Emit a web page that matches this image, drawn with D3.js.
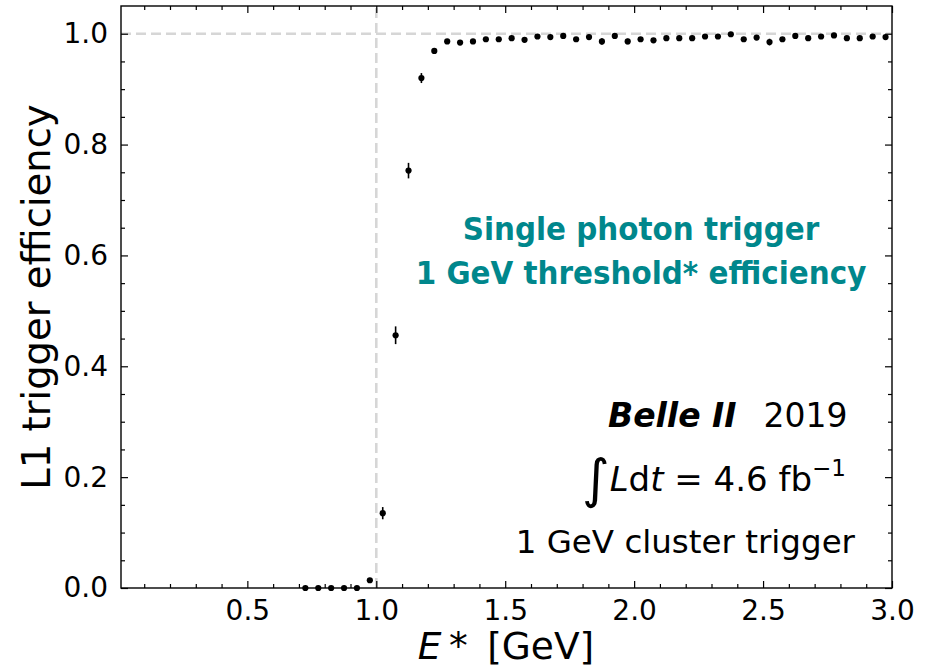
<!DOCTYPE html>
<html>
<head>
<meta charset="utf-8">
<script src="https://cdn.jsdelivr.net/npm/d3@7"></script>
<style>
  html, body { margin: 0; padding: 0; background: #fff; }
  svg { display: block; }
  text { font-family: "DejaVu Sans", sans-serif; fill: #000; }
</style>
</head>
<body>
<svg id="chart" width="934" height="667"></svg>
<script>
// Bin centres of E* [GeV] (0.05 GeV bins)
const energy = [
  0.725, 0.775, 0.825, 0.875, 0.925, 0.975, 1.025, 1.075, 1.125, 1.175,
  1.225, 1.275, 1.325, 1.375, 1.425, 1.475, 1.525, 1.575, 1.625, 1.675,
  1.725, 1.775, 1.825, 1.875, 1.925, 1.975, 2.025, 2.075, 2.125, 2.175,
  2.225, 2.275, 2.325, 2.375, 2.425, 2.475, 2.525, 2.575, 2.625, 2.675,
  2.725, 2.775, 2.825, 2.875, 2.925, 2.975
];
// L1 trigger efficiency per bin
const efficiency = [
  0.000, 0.000, 0.000, 0.000, 0.000, 0.014, 0.135, 0.456, 0.753, 0.920,
  0.969, 0.986, 0.984, 0.986, 0.990, 0.990, 0.992, 0.989, 0.995, 0.994,
  0.996, 0.990, 0.994, 0.986, 0.996, 0.986, 0.990, 0.988, 0.992, 0.992,
  0.992, 0.995, 0.995, 0.999, 0.990, 0.993, 0.985, 0.990, 0.996, 0.992,
  0.995, 0.997, 0.992, 0.992, 0.995, 0.994
];
// Statistical uncertainty per bin
const uncertainty = [
  0.001, 0.001, 0.001, 0.001, 0.001, 0.004, 0.011, 0.016, 0.014, 0.009,
  0.005, 0.004, 0.004, 0.004, 0.003, 0.003, 0.003, 0.003, 0.003, 0.003,
  0.003, 0.004, 0.003, 0.006, 0.003, 0.005, 0.004, 0.004, 0.003, 0.003,
  0.003, 0.003, 0.003, 0.003, 0.004, 0.003, 0.006, 0.004, 0.003, 0.003,
  0.003, 0.003, 0.003, 0.003, 0.003, 0.003
];
const xMajorTicks = [0.5, 1.0, 1.5, 2.0, 2.5, 3.0];
const xMinorTicks = [0.1, 0.2, 0.3, 0.4, 0.6, 0.7, 0.8, 0.9, 1.1, 1.2, 1.3, 1.4,
  1.6, 1.7, 1.8, 1.9, 2.1, 2.2, 2.3, 2.4, 2.6, 2.7, 2.8, 2.9];
const yMajorTicks = [0.0, 0.2, 0.4, 0.6, 0.8, 1.0];
const yMinorTicks = [0.05, 0.1, 0.15, 0.25, 0.3, 0.35, 0.45, 0.5, 0.55, 0.65, 0.7,
  0.75, 0.85, 0.9, 0.95];
const thresholdEnergy = 1.0;
const fullEfficiency = 1.0;

const svg = d3.select("#chart");
const plotLeft = 121, plotRight = 892, plotTop = 6, plotBottom = 588;

const x = d3.scaleLinear().domain([0.01, 3.0]).range([plotLeft, plotRight]);
const y = d3.scaleLinear().domain([0, 1.05]).range([plotBottom, plotTop]);

// reference lines
const grid = svg.append("g")
  .attr("stroke", "#d6d6d6").attr("stroke-width", 2.6)
  .attr("stroke-dasharray", "10,5").attr("fill", "none");
grid.append("line")
  .attr("x1", plotLeft).attr("x2", plotRight)
  .attr("y1", y(fullEfficiency)).attr("y2", y(fullEfficiency));
grid.append("line")
  .attr("x1", x(thresholdEnergy)).attr("x2", x(thresholdEnergy))
  .attr("y1", plotBottom).attr("y2", plotTop);

// axes with inward ticks on all four sides
const fmt = d3.format(".1f");
function styleAxis(g) {
  g.select(".domain").remove();
  g.selectAll(".tick line").attr("stroke", "#000").attr("stroke-width", 1.2);
}
function styleLabels(g) {
  g.selectAll("text").attr("font-size", 28).attr("font-family", "DejaVu Sans").attr("fill", "#000");
}
const tickMajor = 7, tickMinor = 4;

svg.append("g").attr("transform", `translate(0,${plotBottom})`)
  .call(d3.axisBottom(x).tickValues(xMajorTicks).tickFormat(fmt).tickSizeInner(-tickMajor).tickSizeOuter(0).tickPadding(12))
  .call(styleAxis).call(styleLabels);
svg.append("g").attr("transform", `translate(0,${plotBottom})`)
  .call(d3.axisBottom(x).tickValues(xMinorTicks).tickFormat("").tickSizeInner(-tickMinor).tickSizeOuter(0))
  .call(styleAxis);
svg.append("g").attr("transform", `translate(0,${plotTop})`)
  .call(d3.axisTop(x).tickValues(xMajorTicks).tickFormat("").tickSizeInner(-tickMajor).tickSizeOuter(0))
  .call(styleAxis);
svg.append("g").attr("transform", `translate(0,${plotTop})`)
  .call(d3.axisTop(x).tickValues(xMinorTicks).tickFormat("").tickSizeInner(-tickMinor).tickSizeOuter(0))
  .call(styleAxis);

svg.append("g").attr("transform", `translate(${plotLeft},0)`)
  .call(d3.axisLeft(y).tickValues(yMajorTicks).tickFormat(fmt).tickSizeInner(-tickMajor).tickSizeOuter(0).tickPadding(13))
  .call(styleAxis).call(styleLabels);
svg.append("g").attr("transform", `translate(${plotLeft},0)`)
  .call(d3.axisLeft(y).tickValues(yMinorTicks).tickFormat("").tickSizeInner(-tickMinor).tickSizeOuter(0))
  .call(styleAxis);
svg.append("g").attr("transform", `translate(${plotRight},0)`)
  .call(d3.axisRight(y).tickValues(yMajorTicks).tickFormat("").tickSizeInner(-tickMajor).tickSizeOuter(0))
  .call(styleAxis);
svg.append("g").attr("transform", `translate(${plotRight},0)`)
  .call(d3.axisRight(y).tickValues(yMinorTicks).tickFormat("").tickSizeInner(-tickMinor).tickSizeOuter(0))
  .call(styleAxis);

// frame
svg.append("rect")
  .attr("x", plotLeft).attr("y", plotTop)
  .attr("width", plotRight - plotLeft).attr("height", plotBottom - plotTop)
  .attr("fill", "none").attr("stroke", "#000").attr("stroke-width", 1.4);

// data points with error bars
const data = energy.map((e, i) => ({ e, v: efficiency[i], err: uncertainty[i] }));
const pts = svg.append("g");
pts.selectAll("line.err").data(data).join("line")
  .attr("class", "err")
  .attr("x1", d => x(d.e)).attr("x2", d => x(d.e))
  .attr("y1", d => y(Math.max(0, d.v - d.err))).attr("y2", d => y(d.v + d.err))
  .attr("stroke", "#000").attr("stroke-width", 1.6);
pts.selectAll("circle").data(data).join("circle")
  .attr("cx", d => x(d.e)).attr("cy", d => y(d.v))
  .attr("r", 3.1).attr("fill", "#000");

// axis titles
svg.append("text")
  .attr("transform", `translate(50,${(plotTop + plotBottom) / 2}) rotate(-90)`)
  .attr("text-anchor", "middle").attr("font-size", 38.5)
  .text("L1 trigger efficiency");

const xt = svg.append("text")
  .attr("x", 506).attr("y", 659)
  .attr("text-anchor", "middle").attr("font-size", 37.5);
xt.append("tspan").attr("font-style", "italic").text("E");
xt.append("tspan").text("\u2009* \u2009[GeV]");

// teal caption (slightly condensed bold)
const captionLines = [
  { text: "Single photon trigger", baseline: 240 },
  { text: "1 GeV threshold* efficiency", baseline: 284 }
];
svg.append("g").selectAll("text").data(captionLines).join("text")
  .attr("transform", d => `translate(641,${d.baseline}) scale(0.92,1)`)
  .attr("text-anchor", "middle")
  .attr("font-size", 32)
  .attr("font-family", "Roboto").attr("font-weight", "bold")
  .style("fill", "#00878c")
  .text(d => d.text);

// experiment labels
const belle = svg.append("text").attr("x", 608).attr("y", 427).attr("font-size", 33);
belle.append("tspan").attr("font-weight", "bold").attr("font-style", "italic").text("Belle II");
belle.append("tspan").attr("dx", 27).text("2019");

const lumi = svg.append("text").attr("x", 582).attr("y", 491).attr("font-size", 34);
lumi.append("tspan").attr("font-size", 53).attr("dy", 6).text("\u222B");
lumi.append("tspan").attr("font-style", "italic").attr("dy", -6).text("L");
lumi.append("tspan").text("d");
lumi.append("tspan").attr("font-style", "italic").text("t");
lumi.append("tspan").text(" = 4.6 fb");
lumi.append("tspan").attr("font-size", 23).attr("dy", -15).text("\u22121");

svg.append("text").attr("x", 855).attr("y", 553).attr("font-size", 32.5)
  .attr("text-anchor", "end").text("1 GeV cluster trigger");
</script>
</body>
</html>
